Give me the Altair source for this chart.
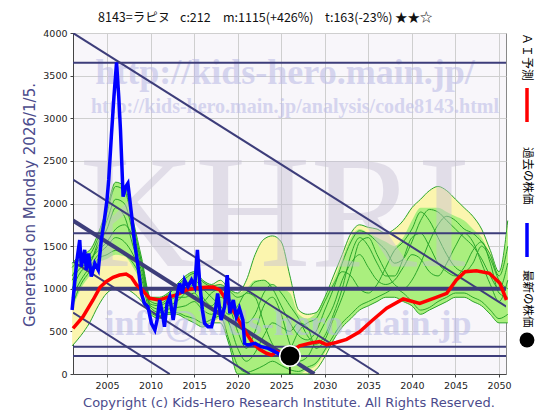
import altair as alt
import pandas as pd

# ---------------- data ----------------
years = list(range(2001, 2052))
yellow_lo = [330, 450, 600, 800, 950, 1000, 1000, 950, 850, 700, 650, 700, 700, 650, 600, 550, 600, 600, 350, 0,
             0, 0, 0, 0, 0, 0, 0, 0, 50, 200, 400, 550, 650, 750, 800, 850, 900, 900, 850, 800,
             700, 750, 800, 850, 900, 900, 850, 800, 700, 600, 600]
yellow_hi = [1300, 1400, 1450, 1650, 1950, 2250, 2200, 1800, 1350, 900, 900, 950, 1050, 1150, 1200, 1100, 1050, 1100, 1000, 950,
             1100, 1400, 1580, 1620, 1550, 1150, 750, 700, 720, 900, 1150, 1400, 1650, 1750, 1720, 1700, 1650, 1700, 1800, 1950,
             2050, 2150, 2200, 2150, 2050, 1950, 1850, 1700, 1450, 1200, 1800]
green_lo = [750, 1000, 1150, 1300, 1350, 1400, 1380, 1250, 1050, 700, 650, 700, 700, 650, 600, 550, 600, 650, 350, 0,
            0, 0, 0, 0, 0, 0, 0, 50, 100, 250, 400, 550, 650, 750, 800, 850, 900, 900, 850, 800,
            700, 750, 800, 850, 900, 900, 850, 800, 700, 600, 600]
green_hi = [1300, 1400, 1450, 1650, 1950, 2250, 2200, 1800, 1350, 900, 900, 950, 1050, 1150, 1200, 1100, 1050, 1050, 1000, 950,
            1000, 1100, 1100, 1050, 1000, 950, 700, 650, 720, 900, 1100, 1350, 1600, 1700, 1650, 1600, 1550, 1500, 1600, 1800,
            1950, 1950, 1950, 1900, 1850, 1800, 1700, 1600, 1400, 1200, 1700]

members = {
    "m1": [1250, 1350, 1400, 1600, 1900, 2200, 2150, 1750, 1300, 880, 880, 930, 1030, 1120, 1180, 1080, 1030, 1050, 980, 900,
           950, 1080, 1100, 1000, 800, 600, 450, 400, 500, 750, 1000, 1300, 1550, 1680, 1640, 1550, 1450, 1300, 1350, 1550,
           1800, 1930, 1900, 1800, 1700, 1600, 1500, 1350, 1150, 1000, 1300],
    "m2": [800, 1050, 1200, 1350, 1400, 1450, 1400, 1300, 1100, 720, 680, 720, 720, 680, 650, 600, 640, 680, 400, 100,
           20, 50, 100, 150, 100, 50, 30, 80, 130, 280, 450, 600, 700, 800, 850, 900, 950, 1000, 950, 850,
           750, 780, 850, 900, 950, 950, 900, 850, 750, 650, 700],
    "m3": [1000, 1200, 1300, 1500, 1700, 1950, 1850, 1500, 1200, 800, 760, 800, 850, 950, 1050, 900, 800, 900, 800, 500,
           300, 500, 800, 900, 700, 350, 150, 200, 400, 600, 800, 1100, 1300, 1400, 1250, 1100, 1050, 1100, 1250, 1400,
           1350, 1200, 1150, 1300, 1500, 1650, 1550, 1300, 1050, 850, 1100],
    "m4": [1150, 1300, 1350, 1450, 1550, 1700, 1750, 1600, 1250, 850, 820, 880, 950, 1050, 1100, 1000, 900, 800, 700, 800,
           950, 900, 600, 350, 250, 300, 500, 600, 650, 850, 1050, 1200, 1150, 1000, 950, 1050, 1250, 1450, 1550, 1700,
           1900, 1800, 1600, 1400, 1250, 1200, 1300, 1500, 1350, 1100, 1000],
    "m5": [900, 1100, 1250, 1400, 1500, 1600, 1550, 1400, 1150, 780, 720, 760, 780, 800, 850, 750, 700, 750, 600, 300,
           150, 250, 450, 600, 550, 500, 600, 550, 300, 400, 650, 900, 1200, 1550, 1600, 1400, 1200, 1050, 1000, 1100,
           1300, 1550, 1750, 1850, 1800, 1700, 1650, 1550, 1400, 1150, 1500],
    "m6": [1100, 1250, 1300, 1550, 1800, 2050, 2000, 1650, 1300, 820, 800, 850, 900, 900, 950, 850, 950, 1000, 900, 700,
           600, 700, 950, 1050, 950, 800, 650, 450, 350, 450, 700, 1000, 1400, 1600, 1500, 1300, 1150, 1150, 1350, 1600,
           1650, 1500, 1300, 1200, 1150, 1250, 1450, 1550, 1300, 950, 900],
}

past_year = [2001.0, 2001.5, 2001.87, 2002.06, 2002.44, 2002.63, 2002.9, 2003.2, 2003.6, 2004.0, 2004.35, 2004.7,
             2005.0, 2005.2, 2005.5, 2005.8, 2006.1, 2006.35, 2006.55, 2006.85, 2007.15, 2007.4, 2007.8, 2008.18,
             2008.57, 2008.95, 2009.3, 2009.7, 2010.1, 2010.5, 2010.75, 2011.05, 2011.36, 2011.6, 2011.9, 2012.2,
             2012.6, 2013.0, 2013.35, 2013.65, 2013.9, 2014.3, 2014.7, 2015.07, 2015.38, 2015.65, 2015.95, 2016.2,
             2016.6, 2017.0, 2017.4, 2017.7, 2018.1, 2018.5, 2018.8, 2019.1, 2019.5, 2019.85, 2020.2, 2020.6,
             2020.8, 2021.2, 2022.0, 2022.7, 2023.5, 2024.25, 2024.6, 2025.2, 2025.9]
past_price = [751, 1298, 1572, 1259, 1455, 1220, 1415, 1142, 1298, 1220, 1572, 1806,
              2041, 2276, 2784, 3253, 3655, 3253, 2862, 2080, 2197, 2237, 1885, 1533,
              1259, 946, 829, 790, 594, 516, 633, 868, 712, 555, 829, 907,
              633, 907, 1064, 946, 1103, 1024, 1103, 1024, 1455, 1064, 751, 594,
              555, 555, 712, 946, 633, 790, 1161, 712, 868, 672, 770, 633,
              360, 340, 360, 320, 301, 262, 243, 220, 212]

ai_year = [2001.1, 2002.25, 2003.4, 2004.2, 2004.9, 2005.7, 2006.45, 2007.2, 2007.8, 2008.4, 2009.0, 2009.9,
           2011.0, 2012.2, 2013.0, 2014.1, 2015.3, 2016.4, 2017.2, 2017.95, 2018.7, 2019.45, 2020.2, 2021.0,
           2021.75, 2022.5, 2023.3, 2023.9, 2024.45, 2025.0, 2025.6, 2026.3, 2027.1, 2028.3, 2029.4, 2030.2,
           2031.3, 2032.5, 2034.0, 2035.5, 2037.1, 2039.0, 2040.9, 2042.8, 2044.0, 2045.1, 2046.1, 2047.4,
           2048.9, 2050.1, 2050.85]
ai_price = [536, 672, 868, 1017, 1083, 1134, 1161, 1173, 1134, 1044, 990, 888,
            868, 907, 927, 985, 1010, 1017, 1020, 985, 868, 751, 614, 477,
            360, 290, 243, 223, 262, 250, 235, 270, 330, 360, 380, 345,
            370, 407, 496, 633, 771, 880, 829, 900, 947, 1103, 1200, 1212,
            1181, 1064, 868]

levels_thin = [3650, 1650, 320, 212]
levels_thick = [1000]

trend_x1 = [2001.1, 2001.1, 2001.1, 2001.1]
trend_y1 = [4000, 2281, 1320, 721]
trend_x2 = [2050.85, 2036.2, 2021.4, 2012.2]
trend_y2 = [790, 0, 0, 0]
trend_thick_x1 = [2001.1]
trend_thick_y1 = [1800]
trend_thick_x2 = [2028.8]
trend_thick_y2 = [0]

latest_year = [2026.0]
latest_price = [212]

title_parts = ["8143=ラピヌ", "c:212", "m:1115(+426%)", "t:163(-23%)", "★★☆"]
left_text = "Generated on Monday 2026/1/5."
bottom_text = "Copyright (c) Kids-Hero Research Institute. All Rights Reserved."
legend_labels = ["ＡＩ予測", "過去の株価", "最新の株価"]

# ---------------- build ----------------
NAVY = "#3d3d7a"
W, H = 433, 341
xs = alt.Scale(domain=[2001.1, 2050.8], nice=False, zero=False)
ys = alt.Scale(domain=[0, 4000], nice=False)

band = pd.DataFrame({"year": years, "ylo": yellow_lo, "yhi": yellow_hi, "glo": green_lo, "ghi": green_hi})
mem = pd.DataFrame([{"year": y, "value": v, "m": k} for k, vals in members.items() for y, v in zip(years, vals)])
past = pd.DataFrame({"year": past_year, "value": past_price})
ai = pd.DataFrame({"year": ai_year, "value": ai_price})
lat = pd.DataFrame({"year": latest_year, "value": latest_price, "zero": [0]})
trends = pd.DataFrame({"x1": trend_x1, "y1": trend_y1, "x2": trend_x2, "y2": trend_y2})
trend_thick = pd.DataFrame({"x1": trend_thick_x1, "y1": trend_thick_y1, "x2": trend_thick_x2, "y2": trend_thick_y2})

x_axis = alt.Axis(values=list(range(2005, 2051, 5)), format="d", title="", grid=True, gridColor="#cfcfcf",
                  labelFont="DejaVu Sans", labelFontSize=9.5, labelColor="#222", domainColor="#444",
                  tickColor="#444", tickSize=3, labelPadding=3)
y_axis = alt.Axis(values=list(range(0, 4001, 500)), format="d", title="", grid=True, gridColor="#cfcfcf",
                  labelFont="DejaVu Sans", labelFontSize=9.5, labelColor="#222", domainColor="#444",
                  tickColor="#444", tickSize=3, labelPadding=3)


def X(field):
    return alt.X(field, scale=xs, axis=x_axis)


def Y(field):
    return alt.Y(field, scale=ys, axis=y_axis)


yellow = alt.Chart(band).mark_area(color="#fbf5ae", interpolate="monotone").encode(
    x=X("year:Q"), y=Y("ylo:Q"), y2="yhi:Q")
green = alt.Chart(band).mark_area(color="#aaef7e", interpolate="monotone").encode(
    x=X("year:Q"), y=Y("glo:Q"), y2="ghi:Q")
mlines = alt.Chart(mem).mark_line(color="#2aa52a", strokeWidth=1, interpolate="monotone").encode(
    x=X("year:Q"), y=Y("value:Q"), detail="m:N")
edge_lo = alt.Chart(band).mark_line(color="#2aa52a", strokeWidth=1, interpolate="monotone").encode(
    x=X("year:Q"), y=Y("ylo:Q"))
edge_hi = alt.Chart(band).mark_line(color="#2aa52a", strokeWidth=1, interpolate="monotone").encode(
    x=X("year:Q"), y=Y("yhi:Q"))


def wm(text, x, y, size, font="Liberation Serif", weight="bold", color="#b9b9e6", opacity=0.55):
    return alt.Chart(pd.DataFrame({"t": [text]})).mark_text(
        font=font, fontSize=size, fontWeight=weight, color=color, opacity=opacity,
        align="center", baseline="middle").encode(x=alt.value(x), y=alt.value(y), text="t:N")


watermarks = [
    wm("KHRI", 202, 185, 160, weight="normal", color="#c6c0d4", opacity=0.45),
    wm("http://kids-hero.main.jp/", 212, 40, 36),
    wm("http://kids-hero.main.jp/analysis/code8143.html", 222, 74, 20),
    wm("info@kids-hero.main.jp", 215, 291, 36),
]

hthin = alt.Chart(pd.DataFrame({"v": levels_thin})).mark_rule(color=NAVY, strokeWidth=2).encode(y=Y("v:Q"))
hthick = alt.Chart(pd.DataFrame({"v": levels_thick})).mark_rule(color=NAVY, strokeWidth=4).encode(y=Y("v:Q"))
dthin = alt.Chart(trends).mark_rule(color=NAVY, strokeWidth=2, clip=True).encode(
    x=X("x1:Q"), y=Y("y1:Q"), x2="x2:Q", y2="y2:Q")
dthick = alt.Chart(trend_thick).mark_rule(color=NAVY, strokeWidth=4, clip=True).encode(
    x=X("x1:Q"), y=Y("y1:Q"), x2="x2:Q", y2="y2:Q")

past_line = alt.Chart(past).mark_line(color="#0000ff", strokeWidth=3.5).encode(x=X("year:Q"), y=Y("value:Q"))
ai_line = alt.Chart(ai).mark_line(color="#ff0000", strokeWidth=3.5).encode(x=X("year:Q"), y=Y("value:Q"))

stem = alt.Chart(lat).mark_rule(color="#000", strokeWidth=1.5).encode(x=X("year:Q"), y=Y("value:Q"), y2="zero:Q")
dot = alt.Chart(lat).mark_point(shape="circle", filled=True, color="#000", size=420, opacity=1,
                                stroke="#ffffff", strokeWidth=1.5).encode(x=X("year:Q"), y=Y("value:Q"))


def txt(text, x, y, size, font, color="#000", angle=0, align="center", baseline="middle"):
    return alt.Chart(pd.DataFrame({"t": [text]})).mark_text(
        font=font, fontSize=size, color=color, angle=angle, align=align, baseline=baseline).encode(
        x=alt.value(x), y=alt.value(y), text="t:N")


title_x = [25, 107, 150, 252, 322]
texts = [txt(p, tx, -15, 12.5, "Noto Sans CJK JP", color="#111", align="left") for p, tx in zip(title_parts, title_x)]
texts += [
    txt(left_text, -43, 172, 15, "DejaVu Sans", color="#4b4b8c", angle=270),
    txt(bottom_text, 216, 370, 13, "DejaVu Sans", color="#4b4b8c"),
    txt(legend_labels[0], 454, 0, 12, "Noto Sans CJK JP", angle=90, align="left"),
    txt(legend_labels[1], 454, 114, 11.5, "Noto Sans CJK JP", angle=90, align="left"),
    txt(legend_labels[2], 454, 237, 11.5, "Noto Sans CJK JP", angle=90, align="left"),
]

legend_marks = [
    alt.Chart(pd.DataFrame({"k": [0]})).mark_rule(color="#ff0000", strokeWidth=3.5).encode(
        x=alt.value(454), y=alt.value(55), y2=alt.value(89)),
    alt.Chart(pd.DataFrame({"k": [0]})).mark_rule(color="#0000ff", strokeWidth=3.5).encode(
        x=alt.value(454), y=alt.value(190), y2=alt.value(224)),
    alt.Chart(pd.DataFrame({"k": [0]})).mark_point(shape="circle", filled=True, color="#000", size=220, opacity=1).encode(
        x=alt.value(454), y=alt.value(307)),
]

chart = alt.layer(
    yellow, green, edge_lo, edge_hi, mlines, *watermarks,
    hthin, hthick, dthin, dthick, ai_line, past_line, stem, dot,
    *texts, *legend_marks,
).properties(
    width=W, height=H,
    padding={"left": 65, "top": 25, "right": 46, "bottom": 38},
    autosize=alt.AutoSizeParams(type="none"),
    background="#ffffff",
).configure_view(
    fill="#f8f6fa", stroke="#888888", strokeWidth=1
)

chart.save("out.html", embed_options={"renderer": "svg", "actions": False})
